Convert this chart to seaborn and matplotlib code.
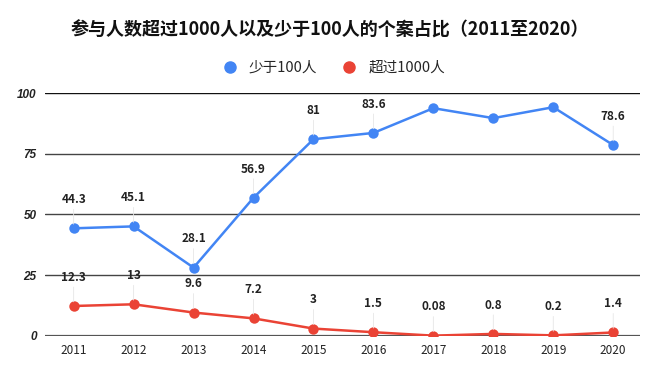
import matplotlib
matplotlib.use('Agg')
import matplotlib.pyplot as plt
import seaborn as sns
import pandas as pd

# 数据
years = ['2011', '2012', '2013', '2014', '2015', '2016', '2017', '2018', '2019', '2020']
less_100 = [44.3, 45.1, 28.1, 56.9, 81, 83.6, 93.8, 89.7, 94.2, 78.6]
over_1000 = [12.3, 13, 9.6, 7.2, 3, 1.5, 0.08, 0.8, 0.2, 1.4]
# 原图中 2017-2019 的蓝色点没有数值标签
less_100_labels = ['44.3', '45.1', '28.1', '56.9', '81', '83.6', '', '', '', '78.6']
over_1000_labels = ['12.3', '13', '9.6', '7.2', '3', '1.5', '0.08', '0.8', '0.2', '1.4']

sns.set_theme(style='white')
plt.rcParams['font.family'] = ['Noto Sans CJK SC', 'DejaVu Sans']

df = pd.DataFrame({
    'year': years * 2,
    'x': list(range(len(years))) * 2,
    'value': less_100 + over_1000,
    'series': ['少于100人'] * len(years) + ['超过1000人'] * len(years),
})

fig = plt.figure(figsize=(6.6, 3.74), dpi=100)
ax = fig.add_axes([0.068, 0.102, 0.902, 0.649])

palette = {'少于100人': '#4285f4', '超过1000人': '#ea4335'}
sns.lineplot(data=df, x='x', y='value', hue='series', palette=palette,
             marker='o', markersize=7.5, markeredgewidth=0, linewidth=1.8,
             ax=ax, legend=False)

# 数值标签（带细引线）
for vals, labels in [(less_100, less_100_labels), (over_1000, over_1000_labels)]:
    for i, (v, lab) in enumerate(zip(vals, labels)):
        if not lab:
            continue
        ax.annotate(lab, xy=(i, v), xytext=(0, 16), textcoords='offset points',
                    ha='center', va='bottom', fontsize=8.5, fontweight='bold',
                    color='#222222',
                    arrowprops=dict(arrowstyle='-', color='#e6e6e6', lw=0.6,
                                    shrinkA=0, shrinkB=3))

ax.set_xlim(-0.48, 9.45)
ax.set_ylim(0, 100)
ax.set_yticks([0, 25, 50, 75, 100])
ax.set_xticks(range(len(years)))
ax.set_xticklabels(years, fontsize=8.5, color='#222222')
ax.set_yticklabels(['0', '25', '50', '75', '100'], fontsize=8.5,
                   fontweight='bold', fontstyle='italic', color='#222222',
                   family=['Liberation Sans', 'DejaVu Sans'])
ax.tick_params(axis='both', length=0, pad=6)
ax.set_xlabel('')
ax.set_ylabel('')

for y in [25, 50, 75]:
    ax.axhline(y, color='#444444', lw=1.0, zorder=0)
ax.axhline(100, color='#111111', lw=1.0, zorder=0)
ax.axhline(0, color='#555555', lw=1.6, zorder=0)
sns.despine(ax=ax, left=True, bottom=True, top=True, right=True)

fig.text(0.5, 0.92, '参与人数超过1000人以及少于100人的个案占比（2011至2020）',
         ha='center', va='center', fontsize=13, fontweight='bold', color='#111111')

# 图例
handles = [plt.Line2D([], [], marker='o', linestyle='', markersize=8,
                      color=palette[k]) for k in ['少于100人', '超过1000人']]
fig.legend(handles, ['少于100人', '超过1000人'], loc='center',
           bbox_to_anchor=(0.5, 0.818), ncol=2, frameon=False,
           fontsize=10.5, handletextpad=0.3, columnspacing=1.2)

fig.savefig('out.png', dpi=100)
